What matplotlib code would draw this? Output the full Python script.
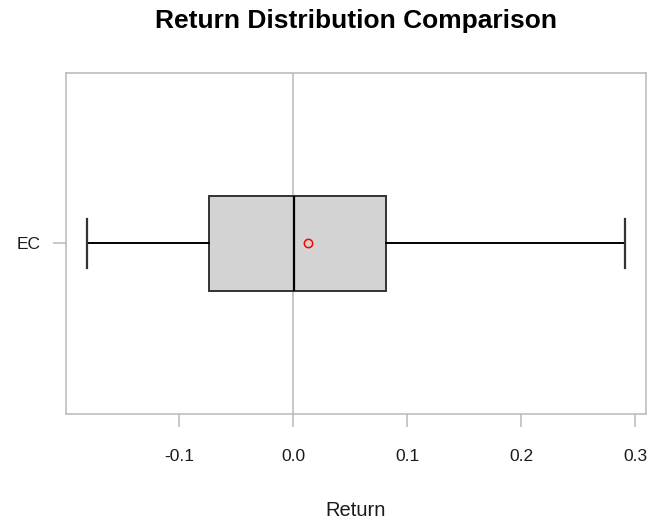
import matplotlib
matplotlib.use("Agg")
import matplotlib.pyplot as plt

plt.rcParams['font.family'] = ['Liberation Sans', 'DejaVu Sans']

# Summary statistics of returns
labels = ["EC"]
whisker_low = [-0.1807]
q1 = [-0.0738]
median = [0.0008]
q3 = [0.0816]
whisker_high = [0.2905]
mean = [0.013]

x_ticks = [-0.1, 0.0, 0.1, 0.2, 0.3]
x_tick_labels = ["-0.1", "0.0", "0.1", "0.2", "0.3"]

W, H = 652, 525
fig = plt.figure(figsize=(W / 100, H / 100), dpi=100)
ax = fig.add_axes([66 / W, 1 - 414 / H, (646 - 66) / W, (414 - 72.7) / H])

stats = []
for i, lab in enumerate(labels):
    stats.append(dict(label=lab, whislo=whisker_low[i], q1=q1[i], med=median[i],
                      q3=q3[i], whishi=whisker_high[i], mean=mean[i], fliers=[]))

ax.axvline(0, color="#bdbdbd", lw=1.2, zorder=0)

ax.bxp(stats, positions=[1], vert=False, widths=0.30, patch_artist=True,
       showmeans=True, showfliers=False,
       boxprops=dict(facecolor="#d3d3d3", edgecolor="#333333", linewidth=1.4),
       whiskerprops=dict(color="black", linewidth=1.4, linestyle="-"),
       capprops=dict(color="#333333", linewidth=1.6),
       capwidths=0.154,
       medianprops=dict(color="black", linewidth=1.6),
       meanprops=dict(marker="o", markerfacecolor="none", markeredgecolor="red",
                      markersize=6, markeredgewidth=1.1))

rng = whisker_high[0] - whisker_low[0]
ax.set_xlim(whisker_low[0] - 0.04 * rng, whisker_high[0] + 0.04 * rng)
ax.set_ylim(0.46, 1.54)

ax.set_xticks(x_ticks)
ax.set_xticklabels(x_tick_labels)
ax.set_yticks([1])
ax.set_yticklabels(labels)

for s in ax.spines.values():
    s.set_color("#bdbdbd")
    s.set_linewidth(1.2)

ax.tick_params(axis="both", colors="#bdbdbd", length=9.5, width=1.2,
               labelsize=12.5, labelcolor="#1a1a1a")
ax.tick_params(axis="x", pad=16)
ax.tick_params(axis="y", pad=9)

fig.text(356 / W, 1 - 516.5 / H, "Return", fontsize=14.5, color="#1a1a1a",
         ha="center", va="baseline")
fig.text(356 / W, 1 - 28 / H, "Return Distribution Comparison", fontsize=19,
         fontweight="bold", ha="center", va="baseline")

fig.savefig("out.png", dpi=100)
